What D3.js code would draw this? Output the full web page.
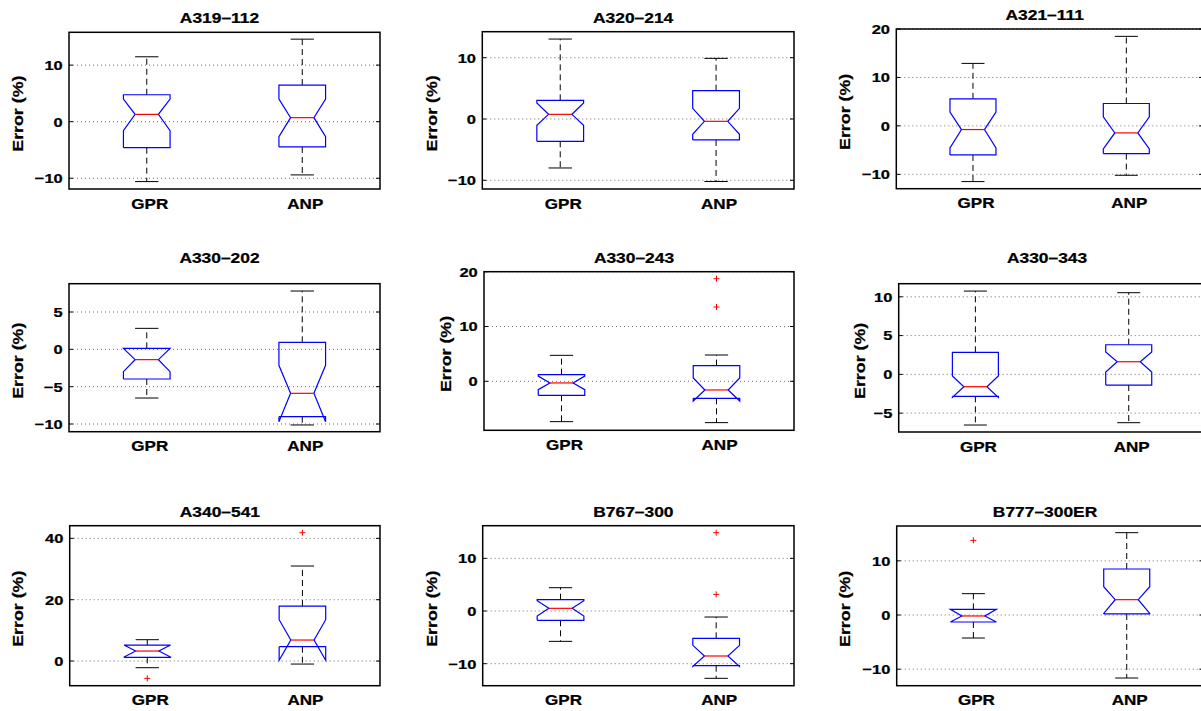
<!DOCTYPE html>
<html>
<head>
<meta charset="utf-8">
<script src="https://cdn.jsdelivr.net/npm/d3@7"></script>
<style>
  html, body { margin: 0; padding: 0; background: #fff; }
  svg { display: block; }
  text { font-family: "Liberation Sans", Arial, Helvetica, sans-serif; font-weight: bold; fill: #000; stroke: #000; stroke-width: 0.25px; }
</style>
</head>
<body>
<svg id="chart" width="1201" height="711"></svg>
<script>
// ---------------- DATA ----------------
const aircraft = ["A319–112", "A320–214", "A321–111", "A330–202", "A330–243", "A330–343", "A340–541", "B767–300", "B777–300ER"];
const methods = ["GPR", "ANP"];
const yLabel = "Error (%)";

// y-axis limits and tick values for each panel
const yLimits = [[-11.9, 15.8], [-11.42, 14.24], [-12.97, 20], [-11.03, 8.79], [-8.94, 20], [-7.43, 11.69], [-8.04, 44.13], [-14.18, 16.2], [-13.05, 16.43]];
const yTicks = [[-10, 0, 10], [-10, 0, 10], [-10, 0, 10, 20], [-10, -5, 0, 5], [0, 10, 20], [-5, 0, 5, 10], [0, 20, 40], [-10, 0, 10], [-10, 0, 10]];

// box statistics, each entry = [GPR, ANP]
const upperWhisker = [[11.47, 14.59], [13.04, 9.89], [12.9, 18.48], [2.81, 7.81], [4.74, 4.80], [10.74, 10.53], [6.96, 30.98], [4.43, -1.14], [3.94, 15.2]];
const q3 = [[4.76, 6.47], [3.04, 4.62], [5.59, 4.62], [0.13, 0.94], [1.22, 2.86], [2.84, 3.82], [5.22, 17.93], [2.15, -5.19], [1.05, 8.49]];
const notchHigh = [[4.0, 4.0], [2.6, 1.74], [2.83, 1.86], [0.13, -2.14], [0.95, 0.61], [-0.21, 2.88], [5.22, 13.48], [1.95, -6.52], [1.05, 5.23]];
const median = [[1.29, 0.71], [0.76, -0.38], [-0.76, -1.45], [-1.38, -5.89], [-0.30, -1.58], [-1.59, 1.63], [3.26, 6.85], [0.51, -8.54], [-0.18, 2.83]];
const notchLow = [[-1.59, -2.65], [-1.03, -2.5], [-4.55, -4.76], [-2.99, -9.69], [-1.52, -3.59], [-2.97, 0.30], [1.3, 0.22], [-0.95, -10.51], [-1.29, 0.3]];
const q1 = [[-4.59, -4.47], [-3.64, -3.42], [-6.0, -5.72], [-3.97, -9.02], [-2.55, -3.10], [-2.84, -1.38], [1.20, 4.67], [-1.77, -10.38], [-1.29, 0.2]];
const lowerWhisker = [[-10.59, -9.41], [-7.99, -10.2], [-11.5, -10.2], [-6.52, -10.13], [-7.36, -7.54], [-6.53, -6.23], [-2.17, -0.98], [-5.76, -12.78], [-4.25, -11.63]];
const outliers = [[[], []], [[], []], [[], []], [[], []], [[], [18.72, 13.56]], [[], []], [[-5.65], [41.85]], [[], [14.87, 3.16]], [[13.78], []]];

// ---------------- LAYOUT (pixel positions of each axes box) ----------------
const layout = [
  {x0: 69,    y0: 32.3,  x1: 380,    y1: 189,   titleY: 22.7,  ylabDx: -51.5},
  {x0: 482.3, y0: 31.7,  x1: 794,    y1: 189,   titleY: 22.7,  ylabDx: -50.5},
  {x0: 896.3, y0: 29,    x1: 1203,   y1: 188.7, titleY: 20,    ylabDx: -51.5},
  {x0: 69,    y0: 283.7, x1: 380,    y1: 431.7, titleY: 262.7, ylabDx: -51.5},
  {x0: 484,   y0: 271.7, x1: 794,    y1: 430.3, titleY: 262.7, ylabDx: -39},
  {x0: 898.7, y0: 283.7, x1: 1205.4, y1: 432,   titleY: 262.7, ylabDx: -39.7},
  {x0: 69.7,  y0: 525.7, x1: 380,    y1: 685.7, titleY: 516.7, ylabDx: -52},
  {x0: 482.7, y0: 525.7, x1: 794,    y1: 685.7, titleY: 516.7, ylabDx: -51},
  {x0: 896.7, y0: 526,   x1: 1203.4, y1: 685.7, titleY: 516.7, ylabDx: -52}
];

const tickFont = 13.5, tickSX = 1.22;
const titleFont = 14.5, titleSX = 1.2;
const ylabFont = 15.5, ylabSX = 1.15;

const svg = d3.select("#chart");
const fmt = v => (v < 0 ? "\u2212" + Math.abs(v) : String(v));

aircraft.forEach((name, i) => {
  const L = layout[i];
  const w = L.x1 - L.x0, h = L.y1 - L.y0;
  const g = svg.append("g").attr("transform", `translate(${L.x0},${L.y0})`);

  const x = d3.scalePoint().domain(methods).range([0, w]).padding(0.5);
  const y = d3.scaleLinear().domain(yLimits[i]).range([h, 0]);
  const hw = 0.15 * x.step();   // half box width
  const nw = hw / 2;            // notch inset

  // grid lines (dotted)
  g.append("g").selectAll("line").data(yTicks[i]).join("line")
    .attr("x1", 0).attr("x2", w)
    .attr("y1", d => y(d)).attr("y2", d => y(d))
    .attr("stroke", "#6e6e6e").attr("stroke-width", 1).attr("stroke-dasharray", "1,3");

  // inward ticks left and right
  const tk = g.append("g");
  tk.selectAll("line.l").data(yTicks[i]).join("line").attr("class", "l")
    .attr("x1", 0).attr("x2", 4).attr("y1", d => y(d)).attr("y2", d => y(d))
    .attr("stroke", "#000").attr("stroke-width", 1);
  tk.selectAll("line.r").data(yTicks[i]).join("line").attr("class", "r")
    .attr("x1", w - 4).attr("x2", w).attr("y1", d => y(d)).attr("y2", d => y(d))
    .attr("stroke", "#000").attr("stroke-width", 1);

  // tick labels
  g.append("g").selectAll("text").data(yTicks[i]).join("text")
    .attr("transform", d => `translate(-6.3,${y(d)}) scale(${tickSX},1)`)
    .attr("text-anchor", "end").attr("dy", "0.36em")
    .style("font-size", tickFont + "px")
    .text(fmt);

  // boxes
  methods.forEach((m, j) => {
    const cx = x(m);
    const bg = g.append("g");
    const uw = y(upperWhisker[i][j]), lw = y(lowerWhisker[i][j]);
    const Q3 = y(q3[i][j]), Q1 = y(q1[i][j]);
    const md = y(median[i][j]), nh = y(notchHigh[i][j]), nl = y(notchLow[i][j]);

    // whiskers
    bg.append("line").attr("x1", cx).attr("x2", cx).attr("y1", Q3).attr("y2", uw)
      .attr("stroke", "#000").attr("stroke-width", 1).attr("stroke-dasharray", "6,4");
    bg.append("line").attr("x1", cx).attr("x2", cx).attr("y1", Q1).attr("y2", lw)
      .attr("stroke", "#000").attr("stroke-width", 1).attr("stroke-dasharray", "6,4");
    // caps
    [uw, lw].forEach(yy => {
      bg.append("line").attr("x1", cx - hw / 2).attr("x2", cx + hw / 2).attr("y1", yy).attr("y2", yy)
        .attr("stroke", "#000").attr("stroke-width", 1);
    });
    // notched box
    const pts = [
      [cx - hw, Q1], [cx - hw, nl], [cx - hw + nw, md], [cx - hw, nh], [cx - hw, Q3],
      [cx + hw, Q3], [cx + hw, nh], [cx + hw - nw, md], [cx + hw, nl], [cx + hw, Q1], [cx - hw, Q1]
    ];
    bg.append("path").attr("d", d3.line()(pts))
      .attr("fill", "none").attr("stroke", "#0000ff").attr("stroke-width", 1.2);
    // median
    bg.append("line").attr("x1", cx - hw + nw).attr("x2", cx + hw - nw).attr("y1", md).attr("y2", md)
      .attr("stroke", "#ff0000").attr("stroke-width", 1.2);
    // outliers
    bg.selectAll("path.o").data(outliers[i][j]).join("path").attr("class", "o")
      .attr("d", d => { const yy = y(d), a = 3; return `M${cx - a},${yy}H${cx + a}M${cx},${yy - a}V${yy + a}`; })
      .attr("stroke", "#ff0000").attr("stroke-width", 1).attr("fill", "none");
  });

  // frame
  g.append("rect").attr("x", 0).attr("y", 0).attr("width", w).attr("height", h)
    .attr("fill", "none").attr("stroke", "#000").attr("stroke-width", 1.5);

  // x labels
  g.append("g").selectAll("text").data(methods).join("text")
    .attr("transform", d => `translate(${x(d) + 3},${h + 19.5}) scale(${tickSX},1)`)
    .attr("text-anchor", "middle")
    .style("font-size", (tickFont + 0.5) + "px")
    .text(d => d);

  // title
  svg.append("text")
    .attr("transform", `translate(${(L.x0 + L.x1) / 2 - 5},${L.titleY}) scale(${titleSX},1)`)
    .attr("text-anchor", "middle")
    .style("font-size", titleFont + "px")
    .text(name);

  // y label
  svg.append("text")
    .attr("transform", `translate(${L.x0 + L.ylabDx},${(L.y0 + L.y1) / 2 + 3}) rotate(-90) scale(${ylabSX},1)`)
    .attr("text-anchor", "middle").attr("dy", "0.36em")
    .style("font-size", ylabFont + "px")
    .text(yLabel);
});
</script>
</body>
</html>
